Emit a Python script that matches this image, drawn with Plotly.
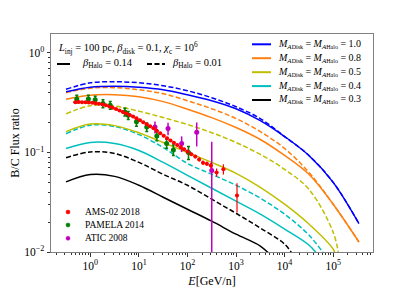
import plotly.graph_objects as go

# ---------------- model curves (E in GeV/n, B/C ratio) ----------------
E_model = [0.316, 1.0, 3.16, 10.0, 31.6, 100.0, 316.0, 1000.0, 3160.0, 10000.0, 31600.0, 100000.0, 339000.0]

blue_solid = [0.407, 0.452, 0.462, 0.452, 0.427, 0.380, 0.331, 0.275, 0.209, 0.1445, 0.0933, 0.0501, 0.0193]
blue_dashed = [0.431, 0.501, 0.513, 0.501, 0.468, 0.417, 0.355, 0.288, 0.219, 0.1445, 0.0933, 0.0501, 0.0193]
orange_solid = [0.343, 0.376, 0.380, 0.363, 0.324, 0.272, 0.224, 0.178, 0.135, 0.0933, 0.0603, 0.0302, 0.0126]
orange_dashed = [0.398, 0.442, 0.447, 0.427, 0.389, 0.331, 0.275, 0.219, 0.162, 0.1096, 0.0631, 0.0302, 0.0126]

E_yellow_dashed = [0.316, 1.0, 3.16, 10.0, 31.6, 100.0, 316.0, 1000.0, 3160.0, 10000.0, 31600.0, 100000.0, 132000.0]
yellow_dashed = [0.244, 0.295, 0.292, 0.260, 0.224, 0.191, 0.158, 0.126, 0.0955, 0.0676, 0.0427, 0.0158, 0.0089]
E_yellow_solid = [0.316, 1.0, 3.16, 10.0, 31.6, 100.0, 316.0, 1000.0, 3160.0, 10000.0, 31600.0, 100000.0, 115000.0]
yellow_solid = [0.162, 0.193, 0.186, 0.158, 0.126, 0.100, 0.0794, 0.0617, 0.0447, 0.0302, 0.0191, 0.0107, 0.0089]

E_cyan_dashed = [0.316, 1.0, 3.16, 10.0, 31.6, 100.0, 316.0, 1000.0, 3160.0, 10000.0, 31600.0, 72400.0]
cyan_dashed = [0.154, 0.188, 0.182, 0.151, 0.112, 0.0776, 0.0603, 0.0468, 0.0347, 0.0240, 0.0148, 0.0089]
E_cyan_solid = [0.316, 1.0, 3.16, 10.0, 31.6, 100.0, 316.0, 1000.0, 3160.0, 10000.0, 31600.0, 52500.0]
cyan_solid = [0.1096, 0.126, 0.123, 0.1047, 0.0794, 0.0589, 0.0437, 0.0324, 0.0240, 0.0170, 0.01175, 0.0089]

E_black_dashed = [0.316, 1.0, 3.16, 10.0, 31.6, 100.0, 316.0, 1000.0, 3160.0, 10000.0, 15800.0]
black_dashed = [0.0885, 0.1012, 0.0977, 0.0794, 0.0603, 0.0468, 0.0339, 0.0245, 0.0174, 0.0120, 0.0089]
E_black_solid = [0.316, 1.0, 3.16, 10.0, 31.6, 100.0, 316.0, 1000.0, 3160.0, 5620.0]
black_solid = [0.0506, 0.060, 0.0575, 0.0468, 0.0355, 0.0269, 0.0204, 0.0151, 0.01148, 0.0089]

# ---------------- measurements ----------------
ams_E = [0.49, 0.575, 0.676, 0.794, 0.933, 1.10, 1.29, 1.51, 1.78, 2.09, 2.46, 2.88, 3.39, 3.98, 4.68,
         5.50, 6.46, 7.59, 8.91, 10.5, 12.3, 14.5, 17.0, 20.0, 23.4, 27.5, 32.4, 38.0, 44.7, 52.5,
         61.7, 72.4, 85.1, 100.0, 120.0, 145.0, 174.0, 209.0, 251.0, 302.0, 398.0, 550.0, 1047.0]
ams_val = [0.320, 0.322, 0.320, 0.319, 0.318, 0.316, 0.313, 0.309, 0.304, 0.298, 0.290, 0.282, 0.273, 0.264, 0.255,
           0.246, 0.238, 0.230, 0.220, 0.211, 0.201, 0.192, 0.183, 0.175, 0.165, 0.156, 0.147, 0.139, 0.132, 0.125,
           0.119, 0.113, 0.108, 0.102, 0.096, 0.091, 0.085, 0.079, 0.077, 0.074, 0.063, 0.068, 0.037]
ams_err = [0.010, 0.010, 0.009, 0.009, 0.009, 0.009, 0.009, 0.009, 0.009, 0.008, 0.008, 0.008, 0.008, 0.008, 0.007,
           0.007, 0.007, 0.007, 0.007, 0.006, 0.006, 0.006, 0.006, 0.005, 0.005, 0.005, 0.005, 0.005, 0.004, 0.004,
           0.004, 0.004, 0.004, 0.004, 0.004, 0.004, 0.004, 0.004, 0.004, 0.005, 0.006, 0.008, 0.012]

pamela_E = [0.525, 0.912, 1.26, 1.82, 2.57, 5.13, 6.03, 8.91, 14.5, 23.4, 37.2, 51.3, 105.0]
pamela_val = [0.345, 0.345, 0.338, 0.310, 0.298, 0.255, 0.236, 0.203, 0.180, 0.146, 0.123, 0.106, 0.100]
pamela_err = [0.030, 0.030, 0.030, 0.028, 0.027, 0.023, 0.022, 0.020, 0.018, 0.015, 0.013, 0.013, 0.015]

atic_E = [21.4, 39.8, 75.9, 155.0, 316.0]
atic_val = [0.180, 0.174, 0.123, 0.160, 0.066]
atic_err_plus = [0.025, 0.025, 0.022, 0.040, 0.062]
atic_err_minus = [0.025, 0.025, 0.022, 0.045, 0.0655]

# tick labels
x_tickvals = [1, 10, 100, 1000, 10000, 100000]
x_ticktext = ["10<sup>0</sup>", "10<sup>1</sup>", "10<sup>2</sup>", "10<sup>3</sup>", "10<sup>4</sup>", "10<sup>5</sup>"]
y_tickvals = [0.01, 0.1, 1]
y_ticktext = ["10<sup>−2</sup>", "10<sup>−1</sup>", "10<sup>0</sup>"]

BLUE, ORANGE, YELLOW, CYAN, BLACK = "#0000ff", "#ff7f0e", "#bfbf00", "#00bfbf", "#000000"
DASH = "5px,2.4px"
SERIF = "Liberation Serif, DejaVu Serif, serif"

fig = go.Figure()

curves = [
    (E_black_solid, black_solid, BLACK, "solid"),
    (E_black_dashed, black_dashed, BLACK, DASH),
    (E_cyan_solid, cyan_solid, CYAN, "solid"),
    (E_cyan_dashed, cyan_dashed, CYAN, DASH),
    (E_yellow_solid, yellow_solid, YELLOW, "solid"),
    (E_yellow_dashed, yellow_dashed, YELLOW, DASH),
    (E_model, orange_solid, ORANGE, "solid"),
    (E_model, orange_dashed, ORANGE, DASH),
    (E_model, blue_solid, BLUE, "solid"),
    (E_model, blue_dashed, BLUE, DASH),
]
for ex, ey, col, dash in curves:
    fig.add_trace(go.Scatter(x=ex, y=ey, mode="lines",
                             line=dict(color=col, width=1.5, dash=dash, shape="spline", smoothing=1),
                             showlegend=False, hoverinfo="skip"))

fig.add_trace(go.Scatter(x=atic_E, y=atic_val, mode="markers", name="ATIC 2008",
                         marker=dict(color="#bf00bf", size=5),
                         error_y=dict(type="data", array=atic_err_plus, arrayminus=atic_err_minus,
                                      color="#bf00bf", thickness=1.5, width=0),
                         showlegend=False))
fig.add_trace(go.Scatter(x=pamela_E, y=pamela_val, mode="markers", name="PAMELA 2014",
                         marker=dict(color="#008000", size=5),
                         error_y=dict(type="data", array=pamela_err, color="#008000", thickness=1.5, width=1.5),
                         showlegend=False))
fig.add_trace(go.Scatter(x=ams_E, y=ams_val, mode="markers", name="AMS-02 2018",
                         marker=dict(color="#ff0000", size=4),
                         error_y=dict(type="data", array=ams_err, color="#ff0000", thickness=1.2, width=0),
                         error_x=dict(type="percent", value=9, color="#ff0000", thickness=1.2, width=0),
                         showlegend=False))

# ---------------- legends (drawn in paper coords) ----------------
shapes = []
annotations = []

# plot area in the page: x 51..373, y 34..252 px
def px(x):
    return (x - 51) / 322.0

def py(y):
    return (252 - y) / 218.0

annotations.append(dict(xref="paper", yref="paper", x=px(56), y=py(47.5), xanchor="left", yanchor="middle",
                        showarrow=False, font=dict(family=SERIF, size=10.5, color="black"),
                        text="<i>L</i><sub>inj</sub> = 100 pc, <i>β</i><sub>disk</sub> = 0.1, <i>χ</i><sub>c</sub> = 10<sup>6</sup>"))
shapes.append(dict(type="line", xref="paper", yref="paper", x0=px(57), x1=px(70), y0=py(64), y1=py(64),
                   line=dict(color="black", width=2)))
annotations.append(dict(xref="paper", yref="paper", x=px(80), y=py(64), xanchor="left", yanchor="middle",
                        showarrow=False, font=dict(family=SERIF, size=10.5, color="black"),
                        text="<i>β</i><sub>Halo</sub> = 0.14"))
shapes.append(dict(type="line", xref="paper", yref="paper", x0=px(147), x1=px(165), y0=py(64), y1=py(64),
                   line=dict(color="black", width=2, dash="5px,2.5px")))
annotations.append(dict(xref="paper", yref="paper", x=px(170), y=py(64), xanchor="left", yanchor="middle",
                        showarrow=False, font=dict(family=SERIF, size=10.5, color="black"),
                        text="<i>β</i><sub>Halo</sub> = 0.01"))

ma_labels = ["1.0", "0.8", "0.5", "0.4", "0.3"]
ma_colors = [BLUE, ORANGE, YELLOW, CYAN, BLACK]
ma_y = [44.3, 58.2, 72.2, 86.1, 100.0]
for lab, col, yy in zip(ma_labels, ma_colors, ma_y):
    shapes.append(dict(type="line", xref="paper", yref="paper", x0=px(252), x1=px(271), y0=py(yy), y1=py(yy),
                       line=dict(color=col, width=2)))
    annotations.append(dict(xref="paper", yref="paper", x=px(276), y=py(yy), xanchor="left", yanchor="middle",
                            showarrow=False, font=dict(family=SERIF, size=10, color="black"),
                            text="<i>M</i><sub><i>A</i><span style='font-size:6px'>Disk</span></sub> = "
                                 "<i>M</i><sub><i>A</i><span style='font-size:6px'>Halo</span></sub> = " + lab))

dl_labels = ["AMS-02 2018", "PAMELA 2014", "ATIC 2008"]
dl_colors = ["#ff0000", "#008000", "#bf00bf"]
dl_y = [212.0, 225.0, 238.3]
for lab, col, yy in zip(dl_labels, dl_colors, dl_y):
    shapes.append(dict(type="circle", xref="paper", yref="paper", x0=px(66), x1=px(70), y0=py(yy + 2), y1=py(yy - 2),
                       line=dict(color=col, width=0.5), fillcolor=col))
    annotations.append(dict(xref="paper", yref="paper", x=px(83), y=py(yy), xanchor="left", yanchor="middle",
                            showarrow=False, font=dict(family=SERIF, size=9.5, color="black"), text=lab))

axis_common = dict(showgrid=False, zeroline=False, showline=True, mirror=True, linecolor="#808080", linewidth=1,
                   ticks="outside", ticklen=3.5, tickwidth=0.8, tickcolor="#333333", automargin=False,
                   tickfont=dict(family=SERIF, size=11.5, color="black"))

fig.update_xaxes(type="log", range=[-0.81, 5.82], tickmode="array", tickvals=x_tickvals, ticktext=x_ticktext,
                 minor=dict(dtick="D1", ticks="outside", ticklen=2, tickwidth=0.6, tickcolor="#333333"),
                 title=dict(text="<i>E</i>[GeV/n]", font=dict(family=SERIF, size=12, color="black")),
                 **axis_common)
fig.update_yaxes(type="log", range=[-2.0, 0.19], tickmode="array", tickvals=y_tickvals, ticktext=y_ticktext,
                 minor=dict(dtick="D1", ticks="outside", ticklen=2, tickwidth=0.6, tickcolor="#333333"),
                 title=dict(text="B/C Flux ratio", font=dict(family=SERIF, size=12, color="black")),
                 **axis_common)

# the page body adds an 8 px offset, so the figure is 407x280 with margins chosen to put
# the plot area at x 51..373, y 34..252 of the 415x288 window
fig.update_layout(width=407, height=280, margin=dict(l=43, r=42, t=26, b=36, autoexpand=False),
                  paper_bgcolor="white", plot_bgcolor="white",
                  shapes=shapes, annotations=annotations, showlegend=False)

fig.write_html("out.html")
